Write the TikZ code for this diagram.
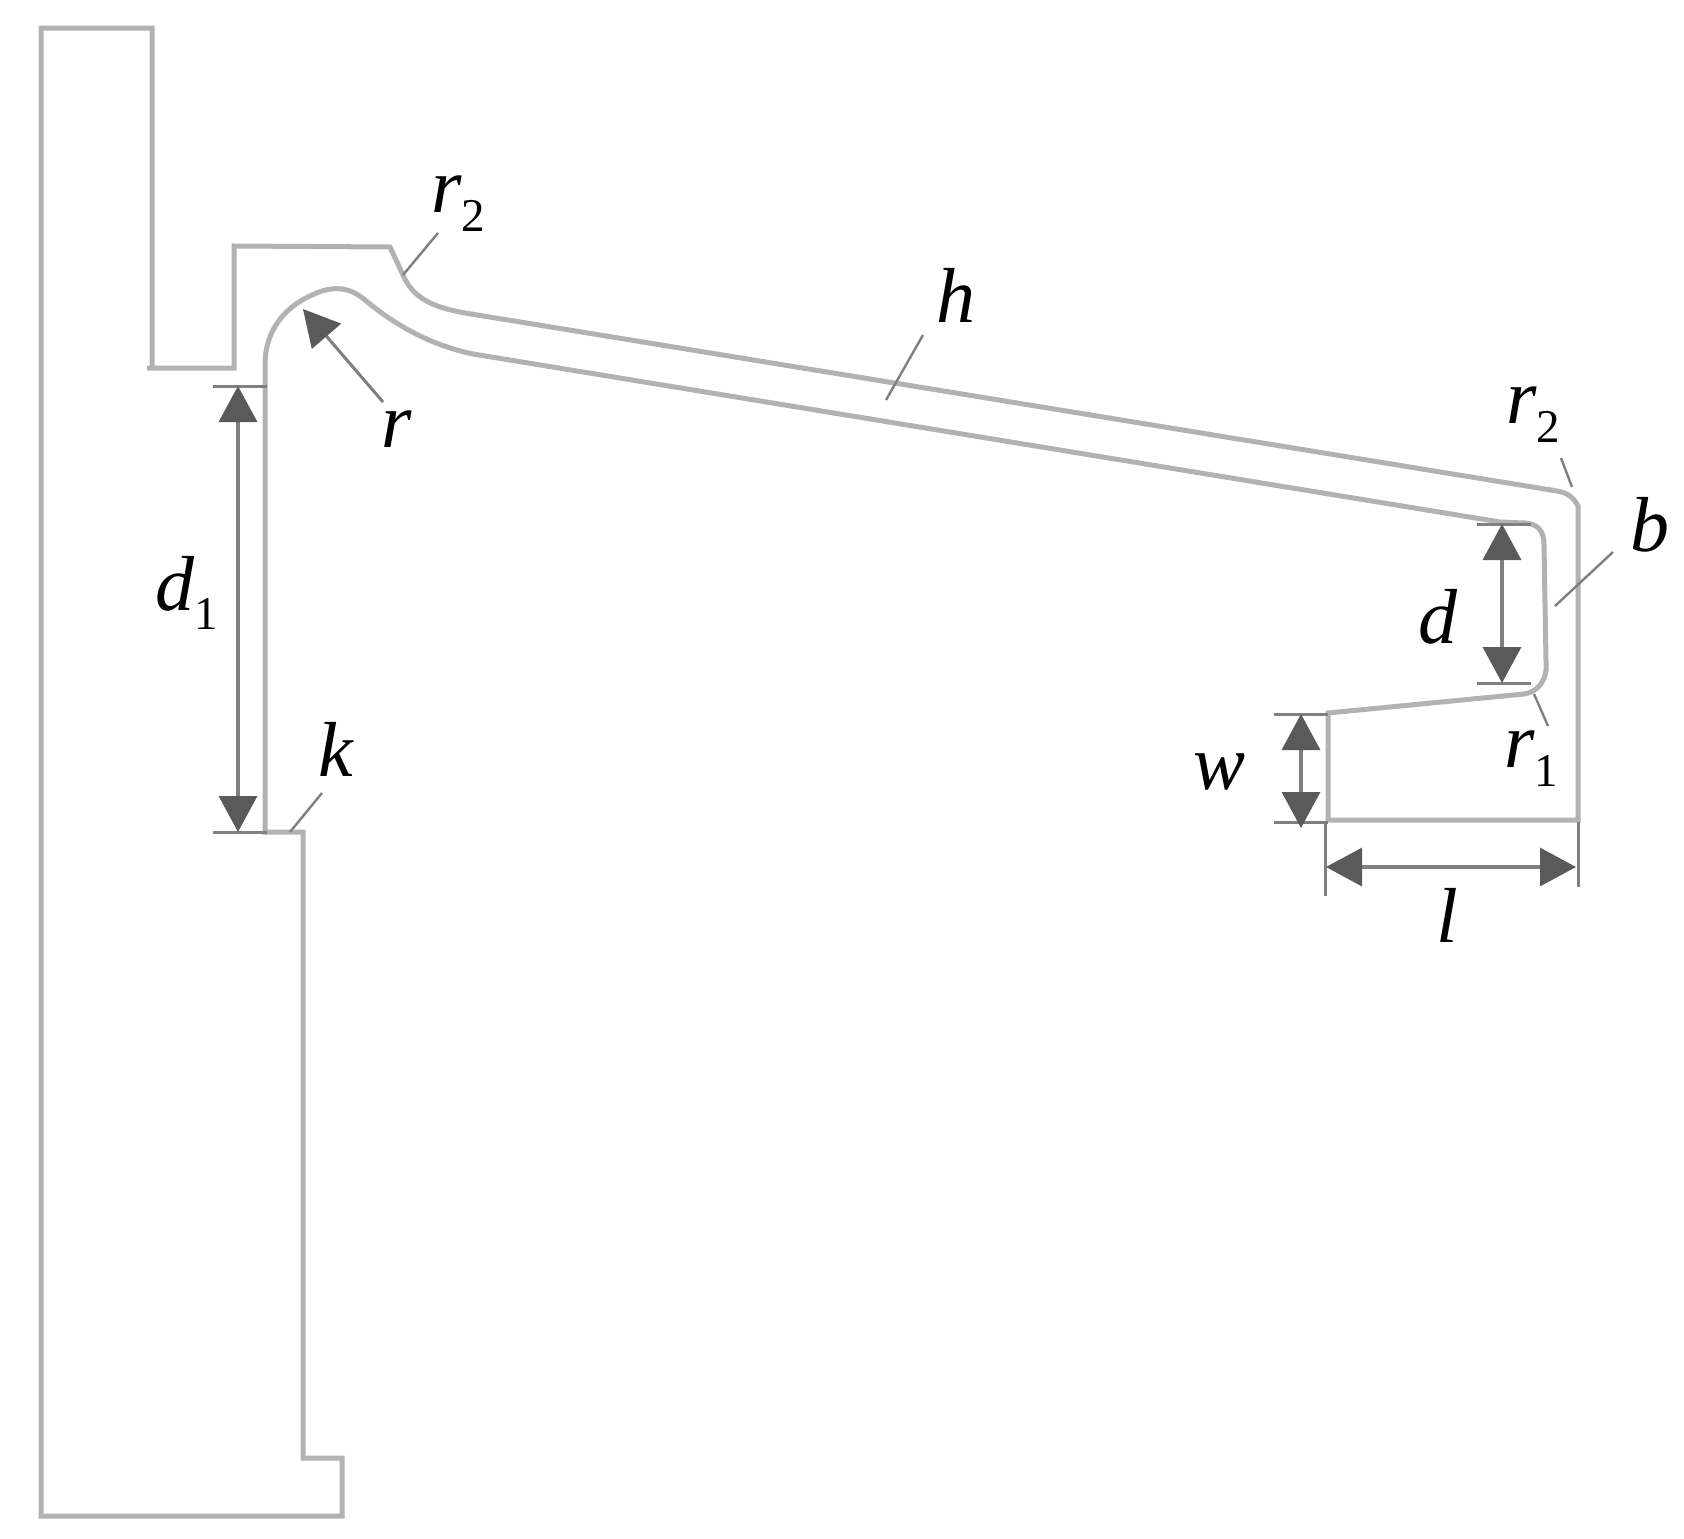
\documentclass[tikz,border=0pt]{standalone}
\usepackage{fontspec}
\setmainfont{Liberation Serif}
\usetikzlibrary{arrows.meta}
\definecolor{outlinegrey}{HTML}{B2B2B2}
\definecolor{dimgrey}{HTML}{5A5A5A}
\definecolor{leadgrey}{HTML}{7F7F7F}
\newcommand{\lbl}[2]{\textit{#1}\raisebox{-19pt}{\fontsize{47}{47}\selectfont\upshape #2}}
\tikzset{
  profile/.style={draw=outlinegrey,line width=5pt,line join=miter},
  dimline/.style={draw=leadgrey,line width=3.4pt,{Triangle[width=38pt,length=36pt,color=dimgrey]}-{Triangle[width=38pt,length=36pt,color=dimgrey]}},
  tickline/.style={draw=leadgrey,line width=3pt},
  leader/.style={draw=leadgrey,line width=2.4pt},
  pointer/.style={draw=leadgrey,line width=3pt,-{Triangle[width=38pt,length=36pt,color=dimgrey]}},
  tag/.style={inner sep=0pt,outer sep=0pt,anchor=base west,font=\fontsize{78}{78}\selectfont\itshape,text=black}
}
\begin{document}
\begin{tikzpicture}[x=1pt,y=-1pt]
\useasboundingbox (0,0) rectangle (1684,1539);
\fill[white] (0,0) rectangle (1684,1539);
% profile
\draw[profile] (41,1516) -- (41,28) -- (152,28) -- (152,368) -- (147,368) -- (234,368) -- (234,246) -- (390,247)
  -- (403,275) .. controls (413,298) and (432,307) .. (465,313)
  -- (1557,491) .. controls (1568,493) and (1573,497) .. (1578,506)
  -- (1578,820) -- (1328,820) -- (1328,713) -- (1524,694)
  .. controls (1538,692) and (1548,680) .. (1546,661)
  -- (1544,545) .. controls (1544,531) and (1538,524) .. (1525,523)
  -- (1500,522) -- (473,354)
  .. controls (430,345) and (395,325) .. (365,300)
  .. controls (350,287) and (333,285) .. (312,295)
  .. controls (285,307) and (265,330) .. (265,365)
  -- (265,832) -- (303,832) -- (303,1458) -- (342,1458) -- (342,1516) -- (41,1516) -- cycle;
% labels
\node[tag] (rtwoa) at (431,212) {\lbl{r}{2}};
\node[tag] (h) at (936,322) {h};
\node[tag] (r) at (381,447) {r};
\node[tag] (done) at (155,610) {\lbl{d}{1}};
\node[tag] (k) at (318,776) {k};
\node[tag] (rtwob) at (1506,423) {\lbl{r}{2}};
\node[tag] (b) at (1630,551) {b};
\node[tag] (d) at (1418,643) {d};
\node[tag] (rone) at (1504,767) {\lbl{r}{1}};
\node[tag] (w) at (1193,789) {w};
\node[tag] (l) at (1436,942) {l};
% leader ends
\coordinate (ra) at (438,233); \coordinate (rb) at (403,275);
\coordinate (ha) at (923,335); \coordinate (hb) at (886,400);
\coordinate (ka) at (322,793); \coordinate (kb) at (290,832);
\coordinate (sa) at (1561,458); \coordinate (sb) at (1572,487);
\coordinate (ba) at (1613,552); \coordinate (bb) at (1555,606);
\coordinate (oa) at (1534,694); \coordinate (ob) at (1548,726);
\coordinate (pa) at (383,402); \coordinate (pb) at (303,309);
\draw[leader] (ra) -- (rb);
\draw[leader] (ha) -- (hb);
\draw[leader] (ka) -- (kb);
\draw[leader] (sa) -- (sb);
\draw[leader] (ba) -- (bb);
\draw[leader] (oa) -- (ob);
\draw[pointer] (pa) -- (pb);
% dimension d1
\coordinate (t1a) at (213,386); \coordinate (t1b) at (267,386);
\coordinate (t2a) at (213,832); \coordinate (t2b) at (267,832);
\coordinate (d1a) at (238,386); \coordinate (d1b) at (238,832);
\draw[tickline] (t1a) -- (t1b);
\draw[tickline] (t2a) -- (t2b);
\draw[dimline] (d1a) -- (d1b);
% dimension d
\coordinate (t3a) at (1477,524); \coordinate (t3b) at (1531,524);
\coordinate (t4a) at (1477,683); \coordinate (t4b) at (1531,683);
\coordinate (dda) at (1502,524); \coordinate (ddb) at (1502,683);
\draw[tickline] (t3a) -- (t3b);
\draw[tickline] (t4a) -- (t4b);
\draw[dimline] (dda) -- (ddb);
% dimension w
\coordinate (t5a) at (1274,714); \coordinate (t5b) at (1328,714);
\coordinate (t6a) at (1274,822); \coordinate (t6b) at (1328,822);
\coordinate (wwa) at (1301,714); \coordinate (wwb) at (1301,828);
\draw[tickline] (t5a) -- (t5b);
\draw[tickline] (t6a) -- (t6b);
\draw[dimline] (wwa) -- (wwb);
% dimension l
\coordinate (t7a) at (1325,822); \coordinate (t7b) at (1325,896);
\coordinate (t8a) at (1578,822); \coordinate (t8b) at (1578,887);
\coordinate (lla) at (1326,867); \coordinate (llb) at (1576,867);
\draw[tickline] (t7a) -- (t7b);
\draw[tickline] (t8a) -- (t8b);
\draw[dimline] (lla) -- (llb);
\end{tikzpicture}
\end{document}
